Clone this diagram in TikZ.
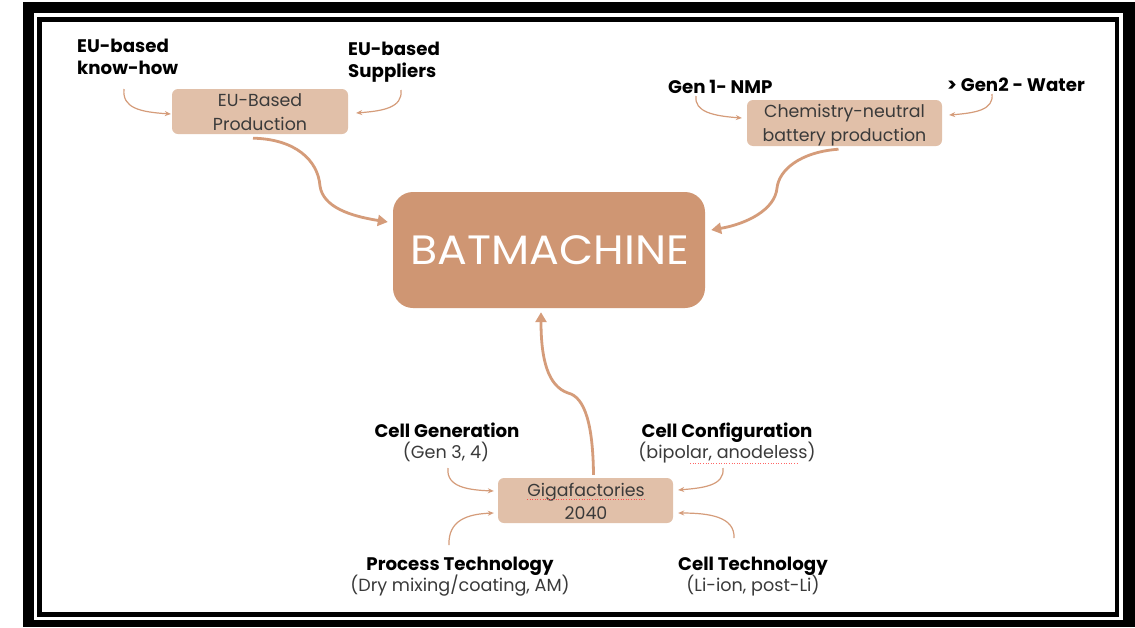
\documentclass[tikz,border=0pt]{standalone}
\usepackage{fontspec}
\setmainfont{Poppins}
\usetikzlibrary{calc,arrows.meta}
\definecolor{lightbox}{HTML}{E1C0A9}
\definecolor{bigbox}{HTML}{CF9673}
\definecolor{arrowc}{HTML}{D59C7A}
\definecolor{boxtext}{HTML}{3A3A3A}
\tikzset{
  lbl/.style={anchor=base, inner sep=0pt, font=\bfseries\fontsize{18.2}{20}\selectfont, text=black},
  lblsub/.style={anchor=base, inner sep=0pt, font=\fontsize{17.6}{20}\selectfont, text=boxtext},
  btxt/.style={anchor=base, inner sep=0pt, font=\fontsize{17.4}{20}\selectfont, text=boxtext},
  smallbox/.style={fill=lightbox, rounded corners=6pt, inner sep=0pt},
  thinarrow/.style={draw=arrowc, line width=1.2pt, -{Stealth[length=6pt,width=5pt]}},
  bigarrow/.style={draw=arrowc, line width=2.8pt, -{Triangle[length=10pt,width=11pt]}},
}
\begin{document}
\begin{tikzpicture}[x=1pt,y=-1pt]
\useasboundingbox (0,0) rectangle (1135,627);
% frame
\fill[black] (23,2) rectangle (1135,627);
\fill[white] (34,13) rectangle (1123,620);
\fill[black] (37,17) rectangle (1119,617);
\fill[white] (42,22) rectangle (1115,612);

% boxes
\node[smallbox, minimum width=176pt, minimum height=45pt] (eub) at (260,111.5) {};
\node[btxt] (eub1) at (260,106) {EU-Based};
\node[btxt] (eub2) at (260,130) {Production};

\node[smallbox, minimum width=195pt, minimum height=46pt] (chem) at (844.5,123) {};
\node[btxt] (chem1) at (844.5,117) {Chemistry-neutral};
\node[btxt] (chem2) at (844.5,141) {battery production};

\node[fill=bigbox, rounded corners=20pt, minimum width=312pt, minimum height=116pt, inner sep=0pt] (bat) at (549,250) {};
\node[anchor=base, inner sep=0pt, text=white, font=\fontsize{41}{44}\selectfont] (battxt) at (550,264) {\scalebox{1.08}[1]{BATMACHINE}};

\node[smallbox, minimum width=175pt, minimum height=45pt] (giga) at (585.5,500.5) {};
\node[btxt] (giga1) at (586,496) {Gigafactories};
\node[btxt] (giga2) at (586,519) {2040};

% labels
\node[lbl, anchor=base west] (kh1) at (77,52) {EU-based};
\node[lbl, anchor=base west] (kh2) at (77,74) {know-how};
\node[lbl, anchor=base west] (sp1) at (348,55) {EU-based};
\node[lbl, anchor=base west] (sp2) at (348,77) {Suppliers};
\node[lbl, anchor=base west] (g1) at (668,93) {Gen 1- NMP};
\node[lbl, anchor=base west] (g2) at (947,91) {> Gen2 - Water};

\node[lbl] (cg1) at (447,437) {Cell Generation};
\node[lblsub] (cg2) at (446,458) {(Gen 3, 4)};
\node[lbl] (cc1) at (727,437) {Cell Configuration};
\node[lblsub] (cc2) at (727,458) {(bipolar, anodeless)};
\node[lbl] (pt1) at (460,570) {Process Technology};
\node[lblsub] (pt2) at (460,591) {(Dry mixing/coating, AM)};
\node[lbl] (ct1) at (753,570) {Cell Technology};
\node[lblsub] (ct2) at (753,591) {(Li-ion, post-Li)};

% spell-check marks
\draw[red!70, line width=0.6pt, dotted] ($(giga1.base west)+(0,3)$) -- ($(giga1.base east)+(0,3)$);
\draw[red!60, line width=0.6pt, dotted] (690,463) -- (798,463);

% start points
\coordinate (skh) at (124,89);
\coordinate (ssp) at (401,90);
\coordinate (sg1) at (696,96);
\coordinate (sg2) at (992,94);
\coordinate (scg) at (448,468);
\coordinate (scc) at (723,468);
\coordinate (spt) at (449,545);
\coordinate (sct) at (734,538);

% thin arrows
\draw[thinarrow] (skh) .. controls (122,108) and (140,112) .. ($(eub.west)+(-1,2.5)$);
\draw[thinarrow] (ssp) .. controls (403,108) and (382,111) .. ($(eub.east)+(8,1.5)$);
\draw[thinarrow] (sg1) .. controls (694,112) and (714,116) .. ($(chem.west)+(-5,-5)$);
\draw[thinarrow] (sg2) .. controls (994,110) and (975,113) .. ($(chem.east)+(7,-8)$);
\draw[thinarrow] (scg) .. controls (446,487) and (468,490) .. ($(giga.west)+(-4,-9.5)$);
\draw[thinarrow] (scc) .. controls (725,486) and (702,488) .. ($(giga.east)+(5,-10.5)$);
\draw[thinarrow] (spt) .. controls (448,520) and (468,514) .. ($(giga.west)+(-4,12.5)$);
\draw[thinarrow] (sct) .. controls (735,517) and (710,513) .. ($(giga.east)+(5,12.5)$);

% big arrows
\draw[bigarrow] ($(eub.south)+(-7,4)$) .. controls (295,139) and (318,160) .. (320,186) .. controls (323,207) and (350,216) .. ($(bat.west)+(-5,-28)$);
\draw[bigarrow] ($(chem.south)+(-6,3)$) .. controls (800,152) and (779,170) .. (777,188) .. controls (775,210) and (746,224) .. ($(bat.east)+(6,-20)$);
\draw[bigarrow] ($(giga.north)+(8,-3)$) .. controls (593,425) and (585,397) .. (568,393) .. controls (548,386) and (541,360) .. ($(bat.south)+(-8,4)$);
\end{tikzpicture}
\end{document}
